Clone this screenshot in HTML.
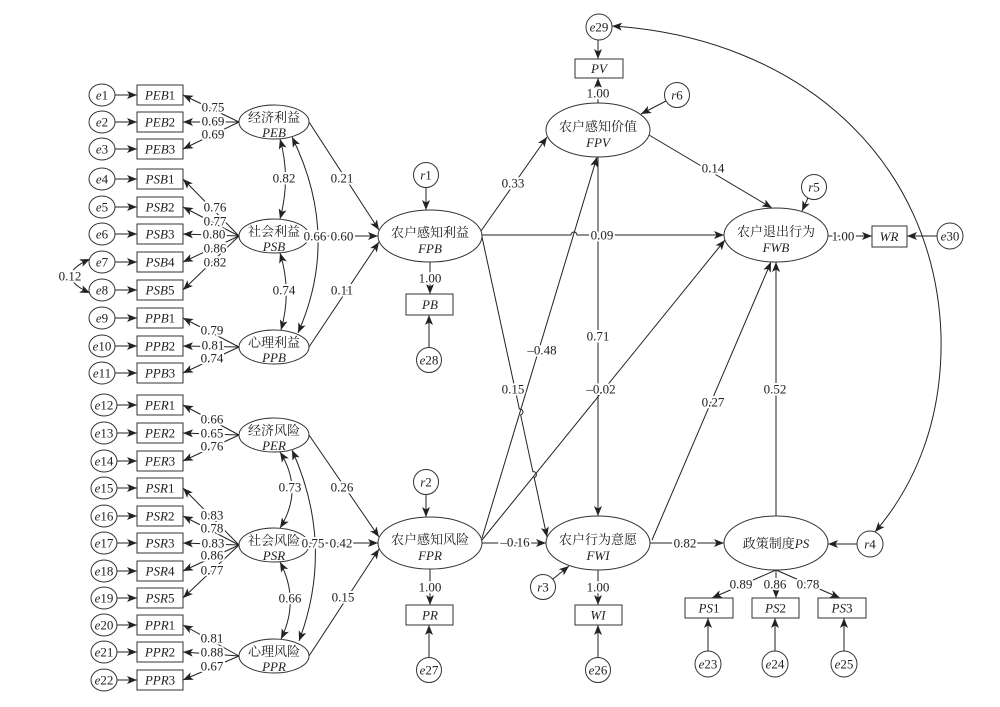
<!DOCTYPE html>
<html><head><meta charset="utf-8">
<style>
html,body{margin:0;padding:0;background:#fff;}
svg{display:block;}
text{font-family:"Liberation Serif","Noto Serif CJK SC",serif;font-size:13px;fill:#222;text-anchor:middle;}
.h{stroke:#fff;stroke-width:4px;paint-order:stroke;stroke-linejoin:round;}
.c{stroke:#222;stroke-width:1;fill:none;}
.s{stroke:#333;stroke-width:1;fill:#fff;}
.ar{marker-end:url(#a);}
.dar{marker-start:url(#a);marker-end:url(#a);}
.i{font-style:italic;}
</style></head><body>
<svg width="1000" height="707" viewBox="0 0 1000 707" xmlns="http://www.w3.org/2000/svg">
<defs>
<marker id="a" viewBox="0 0 10 8" refX="10" refY="4" markerWidth="10" markerHeight="8" markerUnits="userSpaceOnUse" orient="auto-start-reverse">
<polygon points="0,0 10,4 0,8 2.5,4" style="fill:#222;stroke:none"/>
</marker>
</defs>
<rect width="1000" height="707" fill="#fff"/>

<!-- ===== Left indicator lines (latent -> rect) ===== -->
<g class="c">
<line class="ar" x1="239" y1="122" x2="183" y2="95"/>
<line class="ar" x1="239" y1="122" x2="183" y2="122"/>
<line class="ar" x1="239" y1="122" x2="183" y2="149"/>
<line class="ar" x1="239" y1="236" x2="183" y2="179"/>
<line class="ar" x1="239" y1="236" x2="183" y2="207"/>
<line class="ar" x1="239" y1="236" x2="183" y2="234"/>
<line class="ar" x1="239" y1="236" x2="183" y2="262"/>
<line class="ar" x1="239" y1="236" x2="183" y2="290"/>
<line class="ar" x1="239" y1="347" x2="183" y2="318"/>
<line class="ar" x1="239" y1="347" x2="183" y2="346"/>
<line class="ar" x1="239" y1="347" x2="183" y2="373"/>
<line class="ar" x1="239" y1="435" x2="183" y2="405"/>
<line class="ar" x1="239" y1="435" x2="183" y2="433"/>
<line class="ar" x1="239" y1="435" x2="183" y2="461"/>
<line class="ar" x1="239" y1="545" x2="183" y2="488"/>
<line class="ar" x1="239" y1="545" x2="183" y2="516"/>
<line class="ar" x1="239" y1="545" x2="183" y2="543"/>
<line class="ar" x1="239" y1="545" x2="183" y2="571"/>
<line class="ar" x1="239" y1="545" x2="183" y2="598"/>
<line class="ar" x1="239" y1="656" x2="183" y2="625"/>
<line class="ar" x1="239" y1="656" x2="183" y2="652"/>
<line class="ar" x1="239" y1="656" x2="183" y2="680"/>
</g>

<!-- e -> rect arrows -->
<g class="c">
<line class="ar" x1="115" y1="95" x2="137" y2="95"/>
<line class="ar" x1="115" y1="122" x2="137" y2="122"/>
<line class="ar" x1="115" y1="149" x2="137" y2="149"/>
<line class="ar" x1="115" y1="179" x2="137" y2="179"/>
<line class="ar" x1="115" y1="207" x2="137" y2="207"/>
<line class="ar" x1="115" y1="234" x2="137" y2="234"/>
<line class="ar" x1="115" y1="262" x2="137" y2="262"/>
<line class="ar" x1="115" y1="290" x2="137" y2="290"/>
<line class="ar" x1="115" y1="318" x2="137" y2="318"/>
<line class="ar" x1="115" y1="346" x2="137" y2="346"/>
<line class="ar" x1="115" y1="373" x2="137" y2="373"/>
<line class="ar" x1="117" y1="405" x2="137" y2="405"/>
<line class="ar" x1="117" y1="433" x2="137" y2="433"/>
<line class="ar" x1="117" y1="461" x2="137" y2="461"/>
<line class="ar" x1="117" y1="488" x2="137" y2="488"/>
<line class="ar" x1="117" y1="516" x2="137" y2="516"/>
<line class="ar" x1="117" y1="543" x2="137" y2="543"/>
<line class="ar" x1="117" y1="571" x2="137" y2="571"/>
<line class="ar" x1="117" y1="598" x2="137" y2="598"/>
<line class="ar" x1="117" y1="625" x2="137" y2="625"/>
<line class="ar" x1="117" y1="652" x2="137" y2="652"/>
<line class="ar" x1="117" y1="680" x2="137" y2="680"/>
</g>

<!-- e7-e8 covariance -->
<path class="c dar" d="M90,259 Q52,276 90,293"/>

<!-- covariance arcs between latent -->
<path class="c dar" d="M280,139 Q291,178 280,219"/>
<path class="c dar" d="M280,253 Q292,291 281,330"/>
<path class="c dar" d="M292,137 Q341,236 298,333"/>
<path class="c dar" d="M280,452 Q304,490 280,528"/>
<path class="c dar" d="M280,562 Q300,600 281,639"/>
<path class="c dar" d="M292,450 Q335,545 299,641"/>

<!-- latent -> FPB / FPR -->
<g class="c">
<line class="ar" x1="309" y1="122" x2="379" y2="230"/>
<line class="ar" x1="309" y1="236" x2="378" y2="236"/>
<line class="ar" x1="309" y1="347" x2="379" y2="242"/>
<line class="ar" x1="309" y1="435" x2="379" y2="537"/>
<line class="ar" x1="309" y1="543" x2="378" y2="543"/>
<line class="ar" x1="309" y1="656" x2="379" y2="549"/>
</g>

<!-- middle structural paths -->
<g class="c">
<line class="ar" x1="426" y1="188" x2="426" y2="210"/>
<line class="ar" x1="430" y1="262" x2="430" y2="294"/>
<line class="ar" x1="429" y1="347" x2="429" y2="315"/>
<line class="ar" x1="426" y1="495" x2="426" y2="517"/>
<line class="ar" x1="430" y1="569" x2="430" y2="605"/>
<line class="ar" x1="429" y1="657" x2="429" y2="625"/>
<line class="ar" x1="598" y1="570" x2="598" y2="605"/>
<line class="ar" x1="598" y1="657" x2="598" y2="625"/>
<line class="ar" x1="598" y1="103" x2="598" y2="78"/>
<line class="ar" x1="598" y1="40" x2="598" y2="59"/>
<line class="ar" x1="666" y1="101" x2="641" y2="114"/>
<line class="ar" x1="808" y1="198" x2="802" y2="211"/>
<line class="ar" x1="553" y1="579" x2="569" y2="566"/>
<line class="ar" x1="481" y1="231" x2="547" y2="137"/>
<path class="ar" d="M482,235 L571,235 A3,3 0 0 1 577,235 L724,235"/>
<line class="ar" x1="482" y1="538" x2="597" y2="157"/>
<line class="ar" x1="482" y1="540" x2="725" y2="240"/>
<path class="ar" d="M482,237 L519.36,409.07 A3,3 0 0 1 520.64,414.93 L532.86,471.67 A3,3 0 0 1 534.14,477.53 L547,537"/>
<line class="ar" x1="598" y1="157" x2="598" y2="516"/>
<line class="ar" x1="482" y1="543" x2="546" y2="543"/>
<line class="ar" x1="650" y1="543" x2="724" y2="543"/>
<line class="ar" x1="649" y1="135" x2="772" y2="208"/>
<line class="ar" x1="652" y1="540" x2="771" y2="262"/>
<line class="ar" x1="776" y1="517" x2="776" y2="262"/>
<line class="ar" x1="828" y1="236" x2="872" y2="236"/>
<line class="ar" x1="937" y1="236" x2="907" y2="236"/>
<line class="ar" x1="857" y1="544" x2="828" y2="544"/>
<line class="ar" x1="776" y1="570" x2="712" y2="598"/>
<line class="ar" x1="776" y1="570" x2="776" y2="598"/>
<line class="ar" x1="776" y1="570" x2="840" y2="598"/>
<line class="ar" x1="708" y1="651" x2="708" y2="618"/>
<line class="ar" x1="775" y1="651" x2="775" y2="618"/>
<line class="ar" x1="844" y1="651" x2="844" y2="618"/>
</g>
<!-- big covariance curve e29 - r4 -->
<path class="c dar" d="M612,26 C800,38 935,160 941,335 C943,420 915,485 875,532"/>

<!-- ===== Nodes ===== -->
<!-- left e ellipses -->
<g class="s">
<ellipse cx="102" cy="95" rx="13" ry="11"/>
<ellipse cx="102" cy="122" rx="13" ry="11"/>
<ellipse cx="102" cy="149" rx="13" ry="11"/>
<ellipse cx="102" cy="179" rx="13" ry="11"/>
<ellipse cx="102" cy="207" rx="13" ry="11"/>
<ellipse cx="102" cy="234" rx="13" ry="11"/>
<ellipse cx="102" cy="262" rx="13" ry="11"/>
<ellipse cx="102" cy="290" rx="13" ry="11"/>
<ellipse cx="102" cy="318" rx="13" ry="11"/>
<ellipse cx="102" cy="346" rx="13" ry="11"/>
<ellipse cx="102" cy="373" rx="13" ry="11"/>
<ellipse cx="104" cy="405" rx="13" ry="11"/>
<ellipse cx="104" cy="433" rx="13" ry="11"/>
<ellipse cx="104" cy="461" rx="13" ry="11"/>
<ellipse cx="104" cy="488" rx="13" ry="11"/>
<ellipse cx="104" cy="516" rx="13" ry="11"/>
<ellipse cx="104" cy="543" rx="13" ry="11"/>
<ellipse cx="104" cy="571" rx="13" ry="11"/>
<ellipse cx="104" cy="598" rx="13" ry="11"/>
<ellipse cx="104" cy="625" rx="13" ry="11"/>
<ellipse cx="104" cy="652" rx="13" ry="11"/>
<ellipse cx="104" cy="680" rx="13" ry="11"/>
</g>
<g>
<text x="102" y="99.5"><tspan class="i">e</tspan>1</text>
<text x="102" y="126.5"><tspan class="i">e</tspan>2</text>
<text x="102" y="153.5"><tspan class="i">e</tspan>3</text>
<text x="102" y="183.5"><tspan class="i">e</tspan>4</text>
<text x="102" y="211.5"><tspan class="i">e</tspan>5</text>
<text x="102" y="238.5"><tspan class="i">e</tspan>6</text>
<text x="102" y="266.5"><tspan class="i">e</tspan>7</text>
<text x="102" y="294.5"><tspan class="i">e</tspan>8</text>
<text x="102" y="322.5"><tspan class="i">e</tspan>9</text>
<text x="102" y="350.5"><tspan class="i">e</tspan>10</text>
<text x="102" y="377.5"><tspan class="i">e</tspan>11</text>
<text x="104" y="409.5"><tspan class="i">e</tspan>12</text>
<text x="104" y="437.5"><tspan class="i">e</tspan>13</text>
<text x="104" y="465.5"><tspan class="i">e</tspan>14</text>
<text x="104" y="492.5"><tspan class="i">e</tspan>15</text>
<text x="104" y="520.5"><tspan class="i">e</tspan>16</text>
<text x="104" y="547.5"><tspan class="i">e</tspan>17</text>
<text x="104" y="575.5"><tspan class="i">e</tspan>18</text>
<text x="104" y="602.5"><tspan class="i">e</tspan>19</text>
<text x="104" y="629.5"><tspan class="i">e</tspan>20</text>
<text x="104" y="656.5"><tspan class="i">e</tspan>21</text>
<text x="104" y="684.5"><tspan class="i">e</tspan>22</text>
</g>

<!-- left rects -->
<g class="s">
<rect x="137" y="85" width="46" height="20"/>
<rect x="137" y="112" width="46" height="20"/>
<rect x="137" y="139" width="46" height="20"/>
<rect x="137" y="169" width="46" height="20"/>
<rect x="137" y="197" width="46" height="20"/>
<rect x="137" y="224" width="46" height="20"/>
<rect x="137" y="252" width="46" height="20"/>
<rect x="137" y="280" width="46" height="20"/>
<rect x="137" y="308" width="46" height="20"/>
<rect x="137" y="336" width="46" height="20"/>
<rect x="137" y="363" width="46" height="20"/>
<rect x="137" y="395" width="46" height="20"/>
<rect x="137" y="423" width="46" height="20"/>
<rect x="137" y="451" width="46" height="20"/>
<rect x="137" y="478" width="46" height="20"/>
<rect x="137" y="506" width="46" height="20"/>
<rect x="137" y="533" width="46" height="20"/>
<rect x="137" y="561" width="46" height="20"/>
<rect x="137" y="588" width="46" height="20"/>
<rect x="137" y="615" width="46" height="20"/>
<rect x="137" y="642" width="46" height="20"/>
<rect x="137" y="670" width="46" height="20"/>
</g>
<g>
<text x="160" y="99.5"><tspan class="i">PEB</tspan>1</text>
<text x="160" y="126.5"><tspan class="i">PEB</tspan>2</text>
<text x="160" y="153.5"><tspan class="i">PEB</tspan>3</text>
<text x="160" y="183.5"><tspan class="i">PSB</tspan>1</text>
<text x="160" y="211.5"><tspan class="i">PSB</tspan>2</text>
<text x="160" y="238.5"><tspan class="i">PSB</tspan>3</text>
<text x="160" y="266.5"><tspan class="i">PSB</tspan>4</text>
<text x="160" y="294.5"><tspan class="i">PSB</tspan>5</text>
<text x="160" y="322.5"><tspan class="i">PPB</tspan>1</text>
<text x="160" y="350.5"><tspan class="i">PPB</tspan>2</text>
<text x="160" y="377.5"><tspan class="i">PPB</tspan>3</text>
<text x="160" y="409.5"><tspan class="i">PER</tspan>1</text>
<text x="160" y="437.5"><tspan class="i">PER</tspan>2</text>
<text x="160" y="465.5"><tspan class="i">PER</tspan>3</text>
<text x="160" y="492.5"><tspan class="i">PSR</tspan>1</text>
<text x="160" y="520.5"><tspan class="i">PSR</tspan>2</text>
<text x="160" y="547.5"><tspan class="i">PSR</tspan>3</text>
<text x="160" y="575.5"><tspan class="i">PSR</tspan>4</text>
<text x="160" y="602.5"><tspan class="i">PSR</tspan>5</text>
<text x="160" y="629.5"><tspan class="i">PPR</tspan>1</text>
<text x="160" y="656.5"><tspan class="i">PPR</tspan>2</text>
<text x="160" y="684.5"><tspan class="i">PPR</tspan>3</text>
</g>

<!-- left latent ellipses -->
<g class="s">
<ellipse cx="274" cy="122" rx="35" ry="17"/>
<ellipse cx="274" cy="236" rx="35" ry="17"/>
<ellipse cx="274" cy="347" rx="35" ry="17"/>
<ellipse cx="274" cy="435" rx="35" ry="17"/>
<ellipse cx="274" cy="545" rx="35" ry="17"/>
<ellipse cx="274" cy="656" rx="35" ry="17"/>
</g>
<g>
<text x="274" y="122">经济利益</text><text class="i" x="274" y="137">PEB</text>
<text x="274" y="236">社会利益</text><text class="i" x="274" y="251">PSB</text>
<text x="274" y="347">心理利益</text><text class="i" x="274" y="362">PPB</text>
<text x="274" y="435">经济风险</text><text class="i" x="274" y="450">PER</text>
<text x="274" y="545">社会风险</text><text class="i" x="274" y="560">PSR</text>
<text x="274" y="656">心理风险</text><text class="i" x="274" y="671">PPR</text>
</g>

<!-- middle/right nodes -->
<g class="s">
<ellipse cx="430" cy="236" rx="52" ry="26"/>
<ellipse cx="430" cy="543" rx="52" ry="26"/>
<ellipse cx="598" cy="130" rx="52" ry="27"/>
<ellipse cx="598" cy="543" rx="52" ry="27"/>
<ellipse cx="776" cy="235" rx="52" ry="27"/>
<ellipse cx="776" cy="543" rx="52" ry="27"/>
<circle cx="426" cy="175" r="12.5"/>
<circle cx="429" cy="360" r="12.5"/>
<circle cx="426" cy="482" r="12.5"/>
<circle cx="429" cy="670" r="12.5"/>
<circle cx="598" cy="670" r="12.5"/>
<circle cx="543" cy="587" r="12.5"/>
<circle cx="599" cy="27" r="13"/>
<circle cx="677" cy="95" r="12.5"/>
<circle cx="814" cy="187" r="12.5"/>
<circle cx="950" cy="236" r="13"/>
<circle cx="870" cy="544" r="13"/>
<circle cx="708" cy="664" r="13"/>
<circle cx="775" cy="664" r="13"/>
<circle cx="844" cy="664" r="13"/>
<rect x="406" y="294" width="47" height="21"/>
<rect x="406" y="605" width="47" height="20"/>
<rect x="575" y="605" width="47" height="20"/>
<rect x="575" y="59" width="48" height="19"/>
<rect x="872" y="226" width="35" height="21"/>
<rect x="685" y="598" width="48" height="20"/>
<rect x="752" y="598" width="47" height="20"/>
<rect x="818" y="598" width="48" height="20"/>
</g>
<g>
<text x="430" y="237">农户感知利益</text><text class="i" x="430" y="253">FPB</text>
<text x="430" y="544">农户感知风险</text><text class="i" x="430" y="560">FPR</text>
<text x="598" y="131">农户感知价值</text><text class="i" x="598" y="147">FPV</text>
<text x="598" y="544">农户行为意愿</text><text class="i" x="598" y="560">FWI</text>
<text x="776" y="236">农户退出行为</text><text class="i" x="776" y="252">FWB</text>
<text x="776" y="548">政策制度<tspan class="i">PS</tspan></text>
<text x="426" y="179.5"><tspan class="i">r</tspan>1</text>
<text x="429" y="364.5"><tspan class="i">e</tspan>28</text>
<text x="426" y="486.5"><tspan class="i">r</tspan>2</text>
<text x="429" y="674.5"><tspan class="i">e</tspan>27</text>
<text x="598" y="674.5"><tspan class="i">e</tspan>26</text>
<text x="543" y="591.5"><tspan class="i">r</tspan>3</text>
<text x="599" y="31.5"><tspan class="i">e</tspan>29</text>
<text x="677" y="99.5"><tspan class="i">r</tspan>6</text>
<text x="814" y="191.5"><tspan class="i">r</tspan>5</text>
<text x="950" y="240.5"><tspan class="i">e</tspan>30</text>
<text x="870" y="548.5"><tspan class="i">r</tspan>4</text>
<text x="708" y="668.5"><tspan class="i">e</tspan>23</text>
<text x="775" y="668.5"><tspan class="i">e</tspan>24</text>
<text x="844" y="668.5"><tspan class="i">e</tspan>25</text>
<text class="i" x="430" y="309">PB</text>
<text class="i" x="430" y="619.5">PR</text>
<text class="i" x="598" y="619.5">WI</text>
<text class="i" x="599" y="73">PV</text>
<text class="i" x="889" y="241">WR</text>
<text x="709" y="612.5"><tspan class="i">PS</tspan>1</text>
<text x="775.5" y="612.5"><tspan class="i">PS</tspan>2</text>
<text x="842" y="612.5"><tspan class="i">PS</tspan>3</text>
</g>

<!-- ===== Labels with halo ===== -->
<g class="h">
<text x="213" y="111.5">0.75</text>
<text x="213" y="125.5">0.69</text>
<text x="213" y="138.5">0.69</text>
<text x="215" y="211.5">0.76</text>
<text x="215" y="225.5">0.77</text>
<text x="214" y="238.5">0.80</text>
<text x="215" y="252.5">0.86</text>
<text x="215" y="266.5">0.82</text>
<text x="212" y="334.5">0.79</text>
<text x="213" y="349.5">0.81</text>
<text x="212" y="362.5">0.74</text>
<text x="212" y="423.5">0.66</text>
<text x="212" y="437.5">0.65</text>
<text x="212" y="450.5">0.76</text>
<text x="212" y="519.5">0.83</text>
<text x="212" y="532.5">0.78</text>
<text x="213" y="547.5">0.83</text>
<text x="212" y="559.5">0.86</text>
<text x="212" y="574.5">0.77</text>
<text x="212" y="642.5">0.81</text>
<text x="212" y="656.5">0.88</text>
<text x="212" y="670.5">0.67</text>
<text x="70" y="280.5">0.12</text>
<text x="284" y="182.5">0.82</text>
<text x="284" y="294.5">0.74</text>
<text x="315" y="240.5">0.66</text>
<text x="342" y="182.5">0.21</text>
<text x="342" y="240.5">0.60</text>
<text x="342" y="294.5">0.11</text>
<text x="290" y="491.5">0.73</text>
<text x="290" y="602.5">0.66</text>
<text x="313" y="547.5">0.75</text>
<text x="342" y="491.5">0.26</text>
<text x="341" y="547.5">0.42</text>
<text x="343" y="601.5">0.15</text>
<text x="430" y="282.5">1.00</text>
<text x="430" y="591.5">1.00</text>
<text x="598" y="591.5">1.00</text>
<text x="598" y="97.5">1.00</text>
<text x="513" y="187.5">0.33</text>
<text x="602" y="239.5">0.09</text>
<text x="713" y="172.5">0.14</text>
<text x="843" y="240.5">1.00</text>
<text x="542" y="354.5">–0.48</text>
<text x="513" y="393.5">0.15</text>
<text x="598" y="340.5">0.71</text>
<text x="601" y="393.5">–0.02</text>
<text x="515" y="546.5">–0.16</text>
<text x="713" y="406.5">0.27</text>
<text x="775" y="393.5">0.52</text>
<text x="685" y="547.5">0.82</text>
<text x="741" y="588.5">0.89</text>
<text x="775" y="588.5">0.86</text>
<text x="808" y="588.5">0.78</text>
</g>
</svg>
</body></html>
